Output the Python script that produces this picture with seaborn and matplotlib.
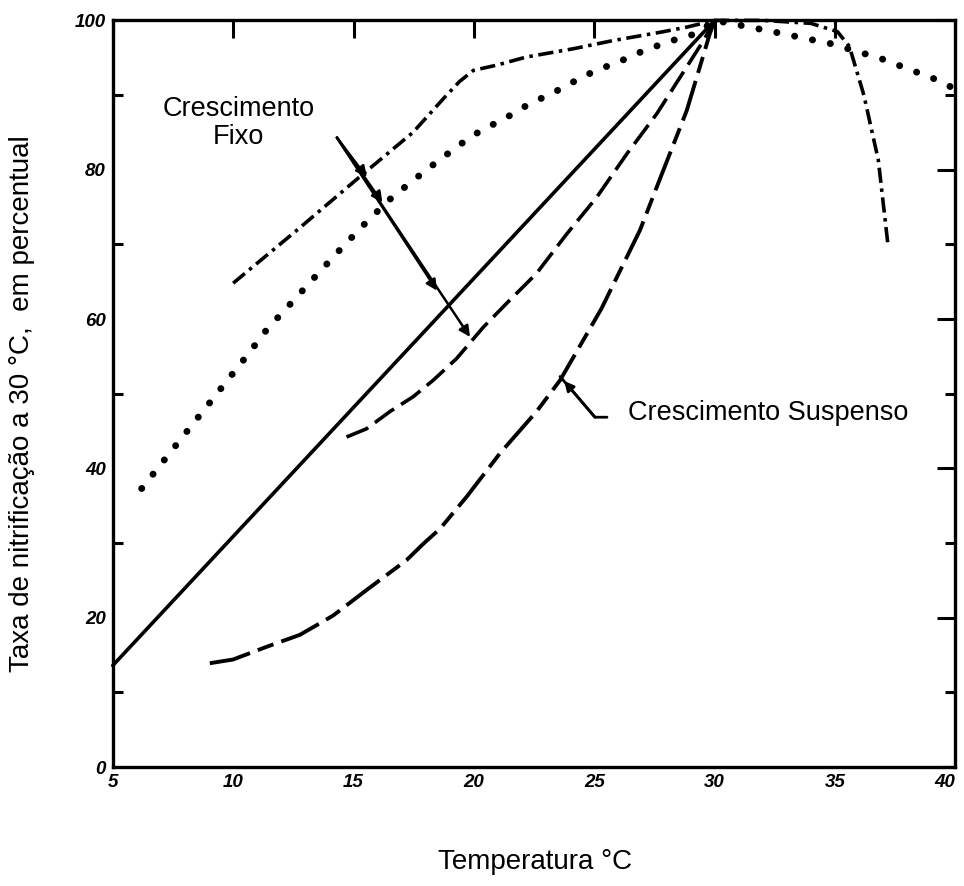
import numpy as np
import pandas as pd
import matplotlib
matplotlib.use("Agg")
import matplotlib.pyplot as plt
import seaborn as sns

# ---------------- data ----------------
# Crescimento fixo - dash-dot curve
dashdot_x = [10, 12.65, 15.35, 17.47, 18.73, 19.4, 19.98, 20.94, 22.19, 24.13, 25.79, 27.73,
             28.85, 30, 32, 34, 35.1, 35.6, 36.2, 36.8, 37.2]
dashdot_y = [64.8, 71.9, 79.3, 85, 89.5, 91.8, 93.3, 94.0, 95.1, 96.2, 97.3, 98.4,
             99.1, 100, 100, 99.6, 98.5, 96.5, 90, 81.3, 70]

# dotted curve
dotted_x = [6.2, 7.7, 9.2, 10.6, 11.4, 12.4, 13.5, 14.5, 15.6, 16.6, 18.0, 18.73, 19.28,
            19.9, 20.64, 21.36, 22.08, 22.89, 23.72, 24.48, 25.24, 26.0, 26.6, 27.25,
            28.0, 28.7, 29.26, 30, 31.3, 32.7, 34.8, 36.9, 39.1, 40]
dotted_y = [37.3, 43.4, 49.5, 55.2, 58.6, 62.1, 66.0, 69.5, 73.2, 76.3, 79.9, 81.7, 83.0,
            84.5, 85.8, 87.0, 88.4, 89.7, 91.0, 92.4, 93.5, 94.4, 95.3, 96.2,
            97.0, 97.8, 98.2, 100, 99.2, 98.3, 96.9, 94.9, 92.2, 90.8]

# solid straight line
solid_x = [5, 30]
solid_y = [13.6, 100]

# long-dashed curve
ldash_x = [14.71, 15.54, 16.51, 17.48, 18.31, 19.28, 20.39, 21.36, 22.6, 23.86, 25.1,
           26.35, 27.6, 28.57, 29.54, 30]
ldash_y = [44.2, 45.3, 47.6, 49.6, 51.8, 54.7, 58.9, 62.1, 66.1, 71.4, 76.3,
           82.1, 87.5, 92.4, 97.3, 100]

# lower dashed curve (crescimento suspenso)
low_x = [9.03, 10.0, 11.39, 12.77, 13.47, 14.16, 15.54, 17.2, 17.9, 18.59, 19.7, 21.08,
         21.92, 22.6, 23.58, 24.55, 25.3, 26.9, 27.6, 28.84, 29.26, 29.8, 30]
low_y = [13.9, 14.4, 16.1, 17.7, 19.0, 20.3, 23.7, 27.7, 29.9, 31.9, 36.2, 42.0,
         45.1, 47.6, 51.8, 57.2, 61.4, 71.9, 77.7, 87.9, 92.4, 98.2, 100]

x_ticks = [5, 10, 15, 20, 25, 30, 35, 40]
x_tick_labels = ["5", "10", "15", "20", "25", "30", "35", "40"]
y_ticks = [0, 20, 40, 60, 80, 100]
y_tick_labels = ["0", "20", "40", "60", "80", "100"]

x_label = "Temperatura °C"
y_label = "Taxa de nitrificação a 30 °C,  em percentual"
label_fixo = "Crescimento\nFixo"
label_susp = "Crescimento Suspenso"

# ---------------- style ----------------
sns.set_theme(style="white")
plt.rcParams["font.family"] = ["Liberation Sans", "DejaVu Sans"]
plt.rcParams["lines.scale_dashes"] = False

fig = plt.figure(figsize=(9.64, 8.86), dpi=100)
ax = fig.add_axes([0.117, 0.1343, 0.874, 0.8427])

common = dict(ax=ax, color="black", estimator=None, sort=False, clip_on=False)

sns.lineplot(x=solid_x, y=solid_y, linewidth=2.6, linestyle="-", **common)
sns.lineplot(x=dashdot_x, y=dashdot_y, linewidth=2.6,
             linestyle=(0, (11, 4, 2.5, 4)), dash_capstyle="butt", **common)
sns.lineplot(x=dotted_x, y=dotted_y, linewidth=5.0,
             linestyle=(0, (0.1, 13)), dash_capstyle="round", **common)
sns.lineplot(x=ldash_x, y=ldash_y, linewidth=2.6,
             linestyle=(0, (17, 6)), **common)
sns.lineplot(x=low_x, y=low_y, linewidth=2.8,
             linestyle=(0, (30, 6, 12, 6)), **common)

# ---------------- annotations ----------------
arrow_start = (14.31, 84.3)
arrow_points = [(15.55, 79.0), (16.2, 75.6), (18.47, 63.8), (19.84, 57.6)]
for pt in arrow_points:
    ax.annotate("", xy=pt, xytext=arrow_start,
                arrowprops=dict(arrowstyle="-|>", color="black", lw=1.8,
                                mutation_scale=16, shrinkA=0, shrinkB=0))
ax.text(10.24, 86.3, label_fixo, ha="center", va="center", fontsize=19.5,
        linespacing=1.1, color="black")

# leader for "Crescimento Suspenso"
ax.plot([25.53, 25.03, 23.58], [46.85, 46.85, 52.3], color="black", lw=2.0)
ax.annotate("", xy=(23.75, 51.7), xytext=(25.03, 46.85),
            arrowprops=dict(arrowstyle="-|>", color="black", lw=2.0,
                            mutation_scale=14, shrinkA=0, shrinkB=0))
ax.text(26.4, 47.4, label_susp, ha="left", va="center", fontsize=19.5, color="black")

# ---------------- axes ----------------
ax.set_xlim(5, 40)
ax.set_ylim(0, 100)
ax.set_xticks(x_ticks)
ax.set_xticklabels(x_tick_labels, fontstyle="italic", fontweight="bold", fontsize=13.5)
ax.get_xticklabels()[-1].set_horizontalalignment("right")
ax.set_yticks(y_ticks)
ax.set_yticklabels(y_tick_labels, fontstyle="italic", fontweight="bold", fontsize=13.5)
ax.set_yticks([10, 30, 50, 70, 90], minor=True)
ax.tick_params(axis="both", which="major", direction="in", length=13, width=2.2,
               top=True, right=True, colors="black", pad=5)
ax.tick_params(axis="y", which="minor", direction="in", length=7, width=2.2,
               left=True, right=True, color="black")
for s in ax.spines.values():
    s.set_linewidth(2.4)
    s.set_color("black")
ax.grid(False)

fig.text(0.555, 0.027, x_label, ha="center", va="center", fontsize=20, color="black")
fig.text(0.023, 0.545, y_label, ha="center", va="center", rotation=90,
         fontsize=20, color="black")

fig.savefig("out.png", dpi=100, facecolor="white")
